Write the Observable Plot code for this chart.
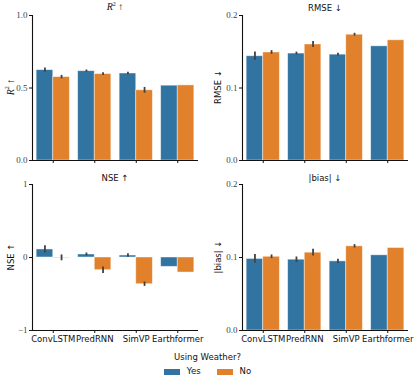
<!DOCTYPE html>
<html><head><meta charset="utf-8">
<script src="https://cdn.jsdelivr.net/npm/d3@7"></script>
<script src="https://cdn.jsdelivr.net/npm/@observablehq/plot@0.6"></script>
<style>
body{margin:0;background:#fff;}
#wrap{position:relative;width:415px;height:382px;font-family:"DejaVu Sans",sans-serif;color:#111;}
.p{position:absolute;}
.t{position:absolute;font-size:8.5px;white-space:nowrap;transform:translateX(-50%);}
.yl{position:absolute;font-size:8.5px;white-space:nowrap;transform:translate(-50%,-50%) rotate(-90deg);}
.serif{font-family:"Liberation Serif",serif;font-size:10px;}
#legend{position:absolute;left:0;width:415px;top:352px;text-align:center;font-size:8.5px;}
.sw{display:inline-block;width:16px;height:6px;vertical-align:middle;margin-right:7px;}
</style></head>
<body><div id="wrap">
<div class="p" id="p1" style="left:0;top:0"></div>
<div class="p" id="p2" style="left:205px;top:0"></div>
<div class="p" id="p3" style="left:0;top:170px"></div>
<div class="p" id="p4" style="left:205px;top:170px"></div>
<div class="t serif" style="left:115px;top:1px"><i>R</i><sup style="font-size:6px">2</sup> ↑</div>
<div class="t" style="left:325px;top:3px">RMSE ↓</div>
<div class="t" style="left:115px;top:173px">NSE ↑</div>
<div class="t" style="left:325px;top:173px">|bias| ↓</div>
<div class="yl serif" style="left:10px;top:87px"><i>R</i><sup style="font-size:6px">2</sup> ↑</div>
<div class="yl" style="left:218px;top:87px">RMSE ↓</div>
<div class="yl" style="left:11px;top:257px">NSE ↑</div>
<div class="yl" style="left:218px;top:257px">|bias| ↓</div>
<div id="legend"><div>Using Weather?</div>
<div style="margin-top:4px"><span class="sw" style="background:#3274a1"></span>Yes<span style="display:inline-block;width:16px"></span><span class="sw" style="background:#e1812c"></span>No</div></div>
</div>
<script>
const models = ["ConvLSTM","PredRNN","SimVP","Earthformer"];
const weather = ["Yes","No"];
const r2Yes = [0.623,0.616,0.600,0.516];
const r2No = [0.575,0.596,0.484,0.518];
const r2ErrYes = [0.015,0.008,0.008,0];
const r2ErrNo = [0.012,0.009,0.02,0];
const rmseYes = [0.1438,0.1475,0.146,0.1575];
const rmseNo = [0.149,0.160,0.1735,0.1658];
const rmseErrYes = [0.006,0.002,0.002,0];
const rmseErrNo = [0.0025,0.004,0.002,0];
const nseYes = [0.11,0.041,0.027,-0.128];
const nseNo = [-0.005,-0.174,-0.366,-0.206];
const nseErrYes = [0.05,0.02,0.025,0];
const nseErrNo = [0.04,0.045,0.03,0];
const biasYes = [0.098,0.097,0.0947,0.103];
const biasNo = [0.101,0.1066,0.1153,0.113];
const biasErrYes = [0.006,0.0037,0.003,0];
const biasErrNo = [0.0025,0.0046,0.0023,0];

function panel(o){
  const bars=[];
  models.forEach((m,i)=>{
    bars.push({m,i,w:"Yes",v:o.yes[i],e:o.eYes[i]});
    bars.push({m,i,w:"No",v:o.no[i],e:o.eNo[i]});
  });
  const off = d => d.w==="Yes" ? -0.4 : 0;
  const p = Plot.plot({
    width:o.width, height:o.height,
    marginLeft:o.ml, marginRight:7, marginTop:o.mt, marginBottom:o.mb,
    style:{fontFamily:"DejaVu Sans, sans-serif", color:"#111", background:"transparent"},
    x:{domain:[-0.5,3.5], axis:null},
    y:{domain:o.domain, axis:null},
    color:{domain:weather, range:["#3274a1","#e1812c"]},
    marks:[
      Plot.rect(bars,{x1:d=>d.i+off(d), x2:d=>d.i+off(d)+0.4, y1:0, y2:"v", fill:"w", stroke:"white", strokeOpacity:0.55, strokeWidth:0.8}),
      Plot.ruleX(bars.filter(d=>d.e>0),{x:d=>d.i+off(d)+0.2, y1:d=>d.v-d.e, y2:d=>d.v+d.e, stroke:"#424242", strokeWidth:1.8}),
      Plot.axisY({ticks:o.ticks, tickFormat:o.fmt, tickSize:3, tickPadding:2, label:null, fontFamily:"Liberation Serif, serif", fontSize:9, fill:"#444"}),
      Plot.axisX({ticks:[0,1,2,3], tickFormat:i=>o.showX?models[i]:"", tickSize:3, tickPadding:2, label:null, fontSize:8.5}),
      Plot.ruleX([-0.5],{y1:o.domain[0], y2:o.domain[1], stroke:"#111", strokeWidth:1.1}),
      Plot.ruleY([o.domain[0]],{x1:-0.5, x2:3.5, stroke:"#111", strokeWidth:1.1})
    ]
  });
  document.getElementById(o.el).appendChild(p);
}
panel({el:"p1", yes:r2Yes, no:r2No, eYes:r2ErrYes, eNo:r2ErrNo, domain:[0,1], ticks:[0,0.5,1], fmt:d3.format(".1f"), width:205, height:172, ml:32, mt:15, mb:12, showX:false});
panel({el:"p2", yes:rmseYes, no:rmseNo, eYes:rmseErrYes, eNo:rmseErrNo, domain:[0,0.2], ticks:[0,0.1,0.2], fmt:d3.format(".1f"), width:210, height:172, ml:37, mt:15, mb:12, showX:false});
panel({el:"p3", yes:nseYes, no:nseNo, eYes:nseErrYes, eNo:nseErrNo, domain:[-1,1], ticks:[-1,0,1], fmt:d=>d<0?"−"+Math.abs(d):String(d), width:205, height:178, ml:32, mt:14, mb:18, showX:true});
panel({el:"p4", yes:biasYes, no:biasNo, eYes:biasErrYes, eNo:biasErrNo, domain:[0,0.2], ticks:[0,0.1,0.2], fmt:d3.format(".1f"), width:210, height:178, ml:37, mt:14, mb:18, showX:true});
</script>
</body></html>
